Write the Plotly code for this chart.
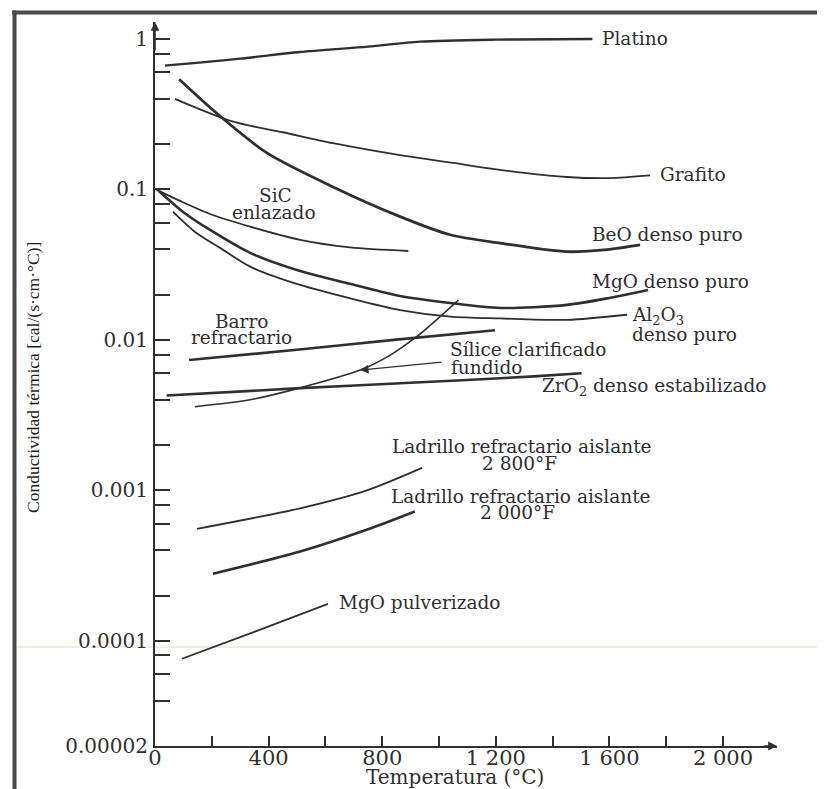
import math
import plotly.graph_objects as go

# ---------------- data ----------------
T_platino = [35, 300, 510, 750, 933, 1200, 1540]
k_platino = [0.665, 0.74, 0.82, 0.89, 0.96, 0.99, 1.0]

T_grafito = [70, 275, 450, 627, 863, 1050, 1215, 1450, 1600, 1743]
k_grafito = [0.40, 0.282, 0.24, 0.203, 0.169, 0.150, 0.135, 0.121, 0.119, 0.124]

T_beo = [85, 218, 394, 627, 863, 1039, 1215, 1450, 1600, 1708]
k_beo = [0.54, 0.32, 0.175, 0.104, 0.066, 0.050, 0.044, 0.0386, 0.040, 0.0428]

T_sic = [6, 88, 194, 335, 511, 687, 892]
k_sic = [0.0993, 0.0839, 0.0687, 0.0566, 0.0462, 0.0412, 0.0390]

T_mgo = [14, 99, 194, 335, 511, 687, 863, 1039, 1215, 1451, 1599, 1736]
k_mgo = [0.0977, 0.0709, 0.0538, 0.0379, 0.0287, 0.0236, 0.0196, 0.0176, 0.0163,
         0.0171, 0.0190, 0.0215]

T_al2o3 = [63, 141, 229, 335, 511, 687, 863, 1039, 1215, 1451, 1662]
k_al2o3 = [0.0712, 0.0522, 0.0409, 0.0307, 0.0232, 0.0189, 0.0158, 0.0143, 0.0139,
           0.0136, 0.0147]

T_barro = [120, 500, 850, 1197]
k_barro = [0.00736, 0.0086, 0.01005, 0.0116]

T_silice = [141, 334, 511, 722, 827, 921, 1004, 1068]
k_silice = [0.0036, 0.0040, 0.0048, 0.0063, 0.0079, 0.0105, 0.0143, 0.0184]

T_zro2 = [41, 511, 863, 1320, 1502]
k_zro2 = [0.00427, 0.00478, 0.00515, 0.0057, 0.0060]

T_lad2800 = [148, 511, 746, 940]
k_lad2800 = [0.000555, 0.00076, 0.00100, 0.00141]

T_lad2000 = [204, 511, 745, 915]
k_lad2000 = [0.000279, 0.000392, 0.000547, 0.000724]

T_mgop = [95, 352, 609]
k_mgop = [7.6e-5, 1.15e-4, 1.76e-4]

x_tickvals = [0, 200, 400, 600, 800, 1000, 1200, 1400, 1600, 1800, 2000]
x_ticktext = ["0", "", "400", "", "800", "", "1 200", "", "1 600", "", "2 000"]

y_major = [1, 0.1, 0.01, 0.001, 0.0001, 0.00002]
y_major_text = ["1", "0.1", "0.01", "0.001", "0.0001", "0.00002"]
y_minor = [0.8, 0.6, 0.4, 0.2, 0.08, 0.06, 0.04, 0.02, 0.008, 0.006, 0.004, 0.002,
           0.0008, 0.0006, 0.0004, 0.0002, 0.00008, 0.00006, 0.00004]

# ---------------- figure ----------------
INK = "#2f2f2f"
SERIF = "DejaVu Serif"

series = [
    (T_platino, k_platino, 2.4),
    (T_grafito, k_grafito, 1.8),
    (T_beo, k_beo, 2.8),
    (T_sic, k_sic, 1.8),
    (T_mgo, k_mgo, 2.6),
    (T_al2o3, k_al2o3, 1.8),
    (T_barro, k_barro, 2.6),
    (T_silice, k_silice, 1.6),
    (T_zro2, k_zro2, 2.6),
    (T_lad2800, k_lad2800, 1.8),
    (T_lad2000, k_lad2000, 2.6),
    (T_mgop, k_mgop, 1.8),
]

fig = go.Figure()
for T, k, w in series:
    fig.add_trace(go.Scatter(x=T, y=k, mode="lines",
                             line=dict(color=INK, width=w, shape="spline", smoothing=0.8),
                             showlegend=False, hoverinfo="skip"))

# the page puts the figure 8 px in from the top-left corner
OFF = 8
W, H = 825 - OFF, 789 - OFF
L, R, TOP, BOT = 155 - OFF, 48, 22 - OFF, 43
PW, PH = W - L - R, H - TOP - BOT


def px_x(p):
    """page pixel x -> paper x"""
    return (p - OFF - L) / PW


def px_y(p):
    """page pixel y -> paper y"""
    return (H - BOT - (p - OFF)) / PH


annotations = []
LAB = 18.5


def lab(text, T, k, anchor="left", size=LAB):
    annotations.append(dict(x=T, y=math.log10(k), xref="x", yref="y", text=text,
                            showarrow=False, xanchor=anchor, yanchor="middle",
                            font=dict(family=SERIF, size=size, color=INK)))


lab("Platino", 1567, 1.015)
lab("Grafito", 1771, 0.125)
lab("BeO denso puro", 1532, 0.0499)
lab("MgO denso puro", 1532, 0.0243)
lab("Al<sub>2</sub>O<sub>3</sub>", 1673, 0.0144)
lab("denso puro", 1673, 0.0109)
lab("Sílice clarificado", 1032, 0.0086)
lab("fundido", 1035, 0.0066)
lab("ZrO<sub>2</sub> denso estabilizado", 1356, 0.00488)
lab("SiC", 423, 0.0918, "center")
lab("enlazado", 419, 0.0698, "center")
lab("Barro", 306, 0.0132, "center")
lab("refractario", 306, 0.0103, "center")
lab("Ladrillo refractario aislante", 827, 0.00195)
lab("2 800°F", 1282, 0.00152, "center")
lab("Ladrillo refractario aislante", 824, 0.000905)
lab("2 000°F", 1278, 0.000708, "center")
lab("MgO pulverizado", 641, 0.000179)

# arrow pointing to the Sílice curve
annotations.append(dict(x=722, y=math.log10(0.0063), xref="x", yref="y",
                        ax=1014, ay=math.log10(0.00714), axref="x", ayref="y",
                        text="", showarrow=True, arrowhead=2, arrowsize=1.2,
                        arrowwidth=1.4, arrowcolor=INK))

ylo, yhi = math.log10(0.00002), 0.113
# axis arrows
annotations.append(dict(x=2190, y=ylo, xref="x", yref="y", ax=2140, ay=ylo,
                        axref="x", ayref="y", text="", showarrow=True,
                        arrowhead=2, arrowsize=1.1, arrowwidth=1.6, arrowcolor=INK))
annotations.append(dict(x=0, y=yhi, xref="x", yref="y", ax=0, ay=yhi - 0.2,
                        axref="x", ayref="y", text="", showarrow=True,
                        arrowhead=2, arrowsize=1.1, arrowwidth=1.6, arrowcolor=INK))

# axis titles
annotations.append(dict(x=px_x(455), y=px_y(777), xref="paper", yref="paper",
                        text="Temperatura (°C)", showarrow=False,
                        xanchor="center", yanchor="middle",
                        font=dict(family=SERIF, size=20, color=INK)))
annotations.append(dict(x=px_x(33), y=px_y(378), xref="paper", yref="paper",
                        text="Conductividad térmica [cal/(s·cm·°C)]", showarrow=False,
                        textangle=-90, xanchor="center", yanchor="middle",
                        font=dict(family="Liberation Serif", size=17.5, color="#1f1f1f")))

shapes = [
    # scan frame (top and left)
    dict(type="line", xref="paper", yref="paper", x0=px_x(12), x1=px_x(830),
         y0=px_y(12.5), y1=px_y(12.5), line=dict(color="#4a4a4a", width=4)),
    dict(type="line", xref="paper", yref="paper", x0=px_x(14.5), x1=px_x(14.5),
         y0=px_y(10.5), y1=px_y(795), line=dict(color="#4a4a4a", width=4)),
    # faint scan streak
    dict(type="line", xref="paper", yref="paper", x0=px_x(17), x1=px_x(830),
         y0=px_y(647), y1=px_y(647), line=dict(color="#f6eadb", width=2), layer="below"),
]

fig.update_layout(
    width=W, height=H,
    margin=dict(l=L, r=R, t=TOP, b=BOT),
    paper_bgcolor="white", plot_bgcolor="white",
    annotations=annotations, shapes=shapes,
    xaxis=dict(range=[0, 2190], showgrid=False, zeroline=False,
               showline=True, linecolor=INK, linewidth=2,
               tickmode="array", tickvals=x_tickvals, ticktext=x_ticktext,
               ticks="inside", ticklen=10, tickwidth=2, tickcolor=INK,
               ticklabelstandoff=-8,
               tickfont=dict(family=SERIF, size=21, color=INK)),
    yaxis=dict(type="log", range=[ylo, yhi], showgrid=False, zeroline=False,
               showline=True, linecolor=INK, linewidth=2,
               tickmode="array", tickvals=y_major + y_minor,
               ticktext=y_major_text + [""] * len(y_minor),
               ticks="inside", ticklen=15, tickwidth=2, tickcolor=INK,
               ticklabelstandoff=1,
               tickfont=dict(family=SERIF, size=20, color=INK)),
)

fig.write_html("out.html")
